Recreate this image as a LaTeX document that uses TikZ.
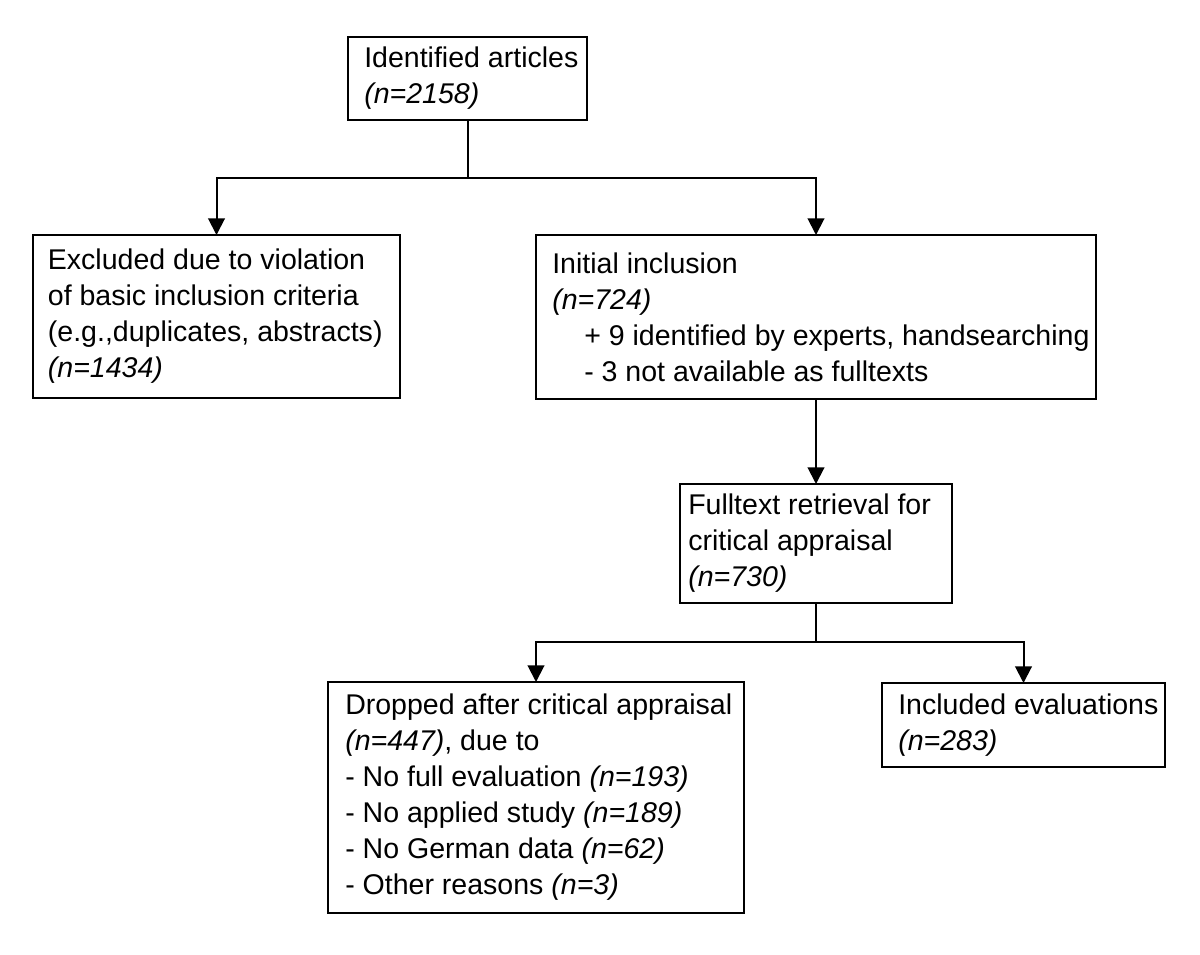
\documentclass[tikz,border=0pt]{standalone}
\usepackage{fontspec}
\setmainfont{Liberation Sans}
\usetikzlibrary{arrows.meta}
\tikzset{
  box/.style={draw, line width=1.5pt, inner sep=0pt, outer sep=0pt, fill=none},
  txt/.style={anchor=west, align=left, inner sep=0pt, font=\fontsize{21.4}{27}\selectfont},
  conn/.style={line width=1.5pt},
  arr/.style={line width=1.5pt, -{Triangle[length=12.5pt,width=12.5pt]}}
}
\begin{document}
\begin{tikzpicture}[x=0.75pt,y=-0.75pt]
\useasboundingbox (0,0) rectangle (1200,954);
% boxes
\node[box, minimum width=179.25pt, minimum height=62.25pt] (b1) at (467.5,78.5) {};
\node[box, minimum width=275.25pt, minimum height=122.25pt] (b2) at (216.5,316.5) {};
\node[box, minimum width=420pt, minimum height=123pt] (b3) at (816,317) {};
\node[box, minimum width=204pt, minimum height=89.25pt] (b4) at (816,543.5) {};
\node[box, minimum width=312pt, minimum height=173.25pt] (b5) at (536,797.5) {};
\node[box, minimum width=212.25pt, minimum height=63pt] (b6) at (1023.5,725) {};
% texts
\node[txt] (t1) at ([xshift=12pt]b1.west) {Identified articles\\\textit{(n=2158)}};
\node[txt] (t2) at ([xshift=11pt]b2.west) {Excluded due to violation\\of basic inclusion criteria\\(e.g.,duplicates, abstracts)\\\textit{(n=1434)}};
\node[txt] (t3) at ([xshift=12pt]b3.west) {Initial inclusion\\\textit{(n=724)}\\\hspace*{24pt}+ 9 identified by experts, handsearching\\\hspace*{24pt}- 3 not available as fulltexts};
\node[txt] (t4) at ([xshift=6pt]b4.west) {Fulltext retrieval for\\critical appraisal\\\textit{(n=730)}};
\node[txt] (t5) at ([xshift=12.75pt]b5.west) {Dropped after critical appraisal\\\textit{(n=447)}, due to\\- No full evaluation \textit{(n=193)}\\- No applied study \textit{(n=189)}\\- No German data \textit{(n=62)}\\- Other reasons \textit{(n=3)}};
\node[txt] (t6) at ([xshift=12pt]b6.west) {Included evaluations\\\textit{(n=283)}};
% connectors
\draw[conn] (b1.south) -- ++(0,58) coordinate (j1);
\draw[arr] (j1) -| (b2.north);
\draw[arr] (j1) -| (b3.north);
\draw[arr] (b3.south) -- (b4.north);
\draw[conn] (b4.south) -- ++(0,39) coordinate (j2);
\draw[arr] (j2) -| (b5.north);
\draw[arr] (j2) -| (b6.north);
\end{tikzpicture}
\end{document}
